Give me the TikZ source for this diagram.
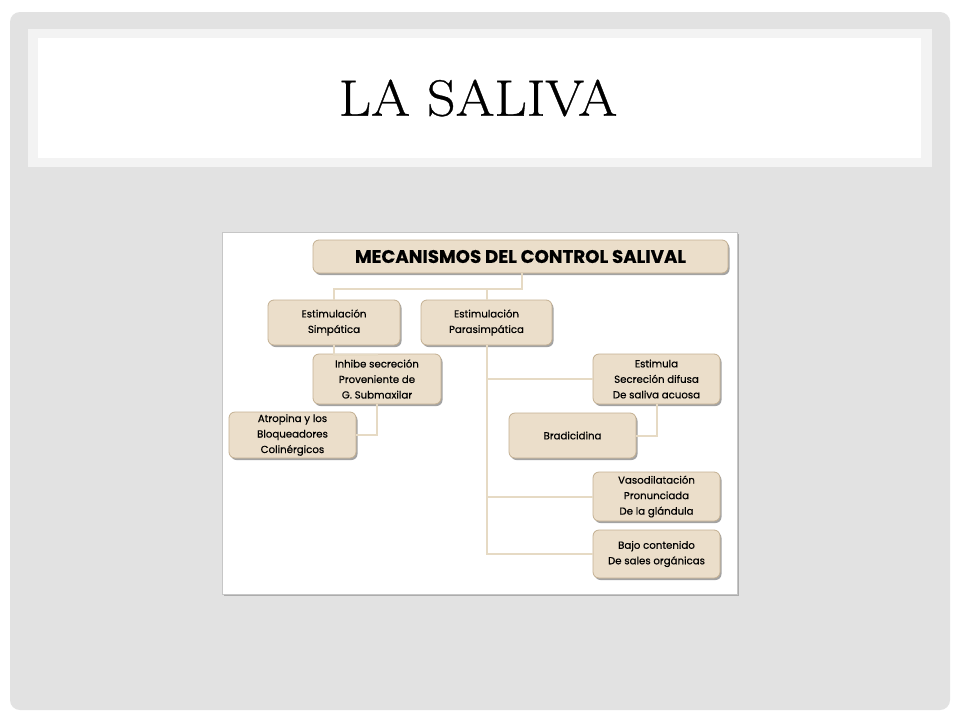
\documentclass[tikz,border=0pt]{standalone}
\usepackage{fontspec}
\newfontfamily\boxfont{Poppins}[FakeBold=0.5]
\newfontfamily\titlefont{Latin Modern Roman}[FakeBold=0.6]
\usepackage{tikz}
\usetikzlibrary{shapes, arrows.meta, positioning, calc, shadows}
\definecolor{slidegray}{RGB}{226, 226, 226}
\definecolor{bandgray}{RGB}{243, 243, 243}
\definecolor{boxbeige}{RGB}{235, 222, 202}
\definecolor{boxedge}{RGB}{196, 176, 146}
\definecolor{linktan}{RGB}{230, 218, 196}
\tikzset{
  box/.style={rectangle, rounded corners=6pt, draw=boxedge, fill=boxbeige, line width=0.8pt, minimum width=127pt, minimum height=46pt, align=center, inner sep=2pt, font=\boxfont\fontsize{10.2}{15.5}\selectfont, drop shadow={shadow xshift=1.5pt, shadow yshift=-2pt, fill=black!55, opacity=0.65}},
  headbox/.style={box, minimum width=415pt, minimum height=33pt, font=\boxfont\bfseries\fontsize{18.2}{20}\selectfont},
  link/.style={draw=linktan, line width=2pt}
}

\begin{document}
\begin{tikzpicture}[x=1pt, y=-1pt]
    \useasboundingbox (0,0) rectangle (960,720);
    % Slide background
    \fill[white] (0,0) rectangle (960,720);
    \fill[slidegray, rounded corners=10pt] (10,12) rectangle (950,710);
    \fill[bandgray] (28,29) rectangle (932,167);
    \fill[white] (38,38) rectangle (921,158);
    \node[font=\titlefont\fontsize{51}{51}\selectfont] (slidetitle) at (478,98) {\scalebox{1.1}[1]{LA SALIVA}};

    % Picture panel
    \fill[gray!65] (224,234) rectangle (739,596);
    \draw[fill=white, draw=gray!45, line width=0.8pt] (222,232) rectangle (737,594);

    % Boxes
    \node[headbox] (head) at (520.5,256.5) {MECANISMOS DEL CONTROL SALIVAL};
    \node[box, minimum width=132pt, minimum height=45pt] (simp) at (334,322.5) {Estimulación\\Simpática};
    \node[box, minimum width=131pt, minimum height=45pt] (para) at (486.5,322.5) {Estimulación\\Parasimpática};
    \node[box, minimum width=128pt, minimum height=50pt] (inhibe) at (377,379) {Inhibe secreción\\Proveniente de\\G. Submaxilar};
    \node[box] (atropina) at (292.5,435) {Atropina y los\\Bloqueadores\\Colinérgicos};
    \node[box, minimum height=50pt] (estimula) at (656.5,379) {Estimula\\Secreción difusa\\De saliva acuosa};
    \node[box, minimum height=45pt] (bradi) at (572.5,435.5) {Bradicidina};
    \node[box, minimum height=49pt] (vaso) at (656.5,496.5) {Vasodilatación\\Pronunciada\\De la glándula};
    \node[box, minimum height=48pt] (bajo) at (656.5,554) {Bajo contenido\\De sales orgánicas};

    % Connectors
    \coordinate (fork) at (522,289);
    \draw[link] (head.south -| fork) -- (fork) -| (simp.north);
    \draw[link] (fork) -| (para.north);
    \draw[link] (simp.south) |- ++(0,10) -| (inhibe.north);
    \draw[link] (inhibe.south) |- (atropina.east);
    \draw[link] (para.south) |- (estimula.west);
    \draw[link] (para.south) |- (vaso.west);
    \draw[link] (para.south) |- (bajo.west);
    \draw[link] (estimula.south) |- (bradi.east);
\end{tikzpicture}
\end{document}
